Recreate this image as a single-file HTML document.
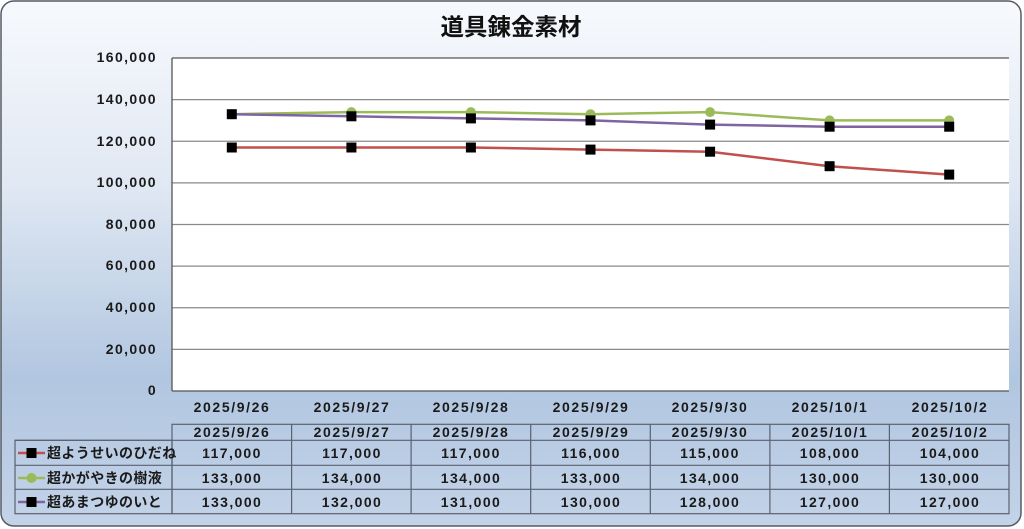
<!DOCTYPE html>
<html><head><meta charset="utf-8">
<style>
html,body{margin:0;padding:0;background:#fff;}
svg{display:block;}
text{font-family:"Liberation Sans","Noto Sans CJK JP",sans-serif;fill:#1a1a1a;}
.y{font-size:14px;font-weight:bold;letter-spacing:1.4px;text-anchor:end;}
.d{font-size:14px;font-weight:bold;letter-spacing:1.6px;text-anchor:middle;}
.v{font-size:14px;font-weight:bold;letter-spacing:1.4px;text-anchor:middle;}
.lg{font-size:14px;font-weight:bold;letter-spacing:0.4px;font-family:"Noto Sans CJK JP","Liberation Sans",sans-serif;}
</style></head>
<body>
<svg width="1024" height="529" viewBox="0 0 1024 529" xmlns="http://www.w3.org/2000/svg">
<defs>
<linearGradient id="bg" x1="0" y1="0" x2="0" y2="1">
<stop offset="0" stop-color="#f7f9fd"/>
<stop offset="0.35" stop-color="#e0e8f3"/>
<stop offset="0.72" stop-color="#b1c6e0"/>
<stop offset="1" stop-color="#c3d3e8"/>
</linearGradient>
</defs>
<rect x="1" y="1" width="1020" height="525" rx="13" ry="13" fill="url(#bg)" stroke="#555b63" stroke-width="1.5"/>
<text x="511" y="35" text-anchor="middle" style="font-size:23.5px;font-weight:bold;font-family:'Noto Sans CJK JP','Liberation Sans',sans-serif;fill:#111;">道具錬金素材</text>

<!-- plot area -->
<rect x="172" y="58" width="837" height="333" fill="#ffffff"/>
<g stroke="#8a8a8a" stroke-width="1.3">
<line x1="172" y1="99.6" x2="1009" y2="99.6"/>
<line x1="172" y1="141.25" x2="1009" y2="141.25"/>
<line x1="172" y1="182.9" x2="1009" y2="182.9"/>
<line x1="172" y1="224.5" x2="1009" y2="224.5"/>
<line x1="172" y1="266.1" x2="1009" y2="266.1"/>
<line x1="172" y1="307.75" x2="1009" y2="307.75"/>
<line x1="172" y1="349.4" x2="1009" y2="349.4"/>
</g>
<line x1="172" y1="58" x2="1009" y2="58" stroke="#555" stroke-width="1.3"/>
<line x1="172" y1="58" x2="172" y2="391" stroke="#555" stroke-width="1.3"/>
<line x1="172" y1="391" x2="1009" y2="391" stroke="#555" stroke-width="1.3"/>

<!-- y labels -->
<g class="y">
<text class="y" x="157" y="62">160,000</text>
<text class="y" x="157" y="104">140,000</text>
<text class="y" x="157" y="146">120,000</text>
<text class="y" x="157" y="187">100,000</text>
<text class="y" x="157" y="229">80,000</text>
<text class="y" x="157" y="270">60,000</text>
<text class="y" x="157" y="312">40,000</text>
<text class="y" x="157" y="354">20,000</text>
<text class="y" x="157" y="395">0</text>
</g>

<!-- series -->
<polyline fill="none" stroke="#c0504d" stroke-width="2.5" points="231.8,147.5 351.4,147.5 470.9,147.5 590.5,149.6 710.1,151.7 829.6,166.2 949.2,174.6"/>
<polyline fill="none" stroke="#9bbb59" stroke-width="2.5" points="231.8,114.2 351.4,112.1 470.9,112.1 590.5,114.2 710.1,112.1 829.6,120.4 949.2,120.4"/>
<polyline fill="none" stroke="#8064a2" stroke-width="2.5" points="231.8,114.2 351.4,116.3 470.9,118.4 590.5,120.4 710.1,124.6 829.6,126.7 949.2,126.7"/>
<g fill="#000">
<rect x="226.8" y="142.5" width="10" height="10"/><rect x="346.4" y="142.5" width="10" height="10"/><rect x="465.9" y="142.5" width="10" height="10"/><rect x="585.5" y="144.6" width="10" height="10"/><rect x="705.1" y="146.7" width="10" height="10"/><rect x="824.6" y="161.2" width="10" height="10"/><rect x="944.2" y="169.6" width="10" height="10"/>
</g>
<g fill="#9bbb59">
<circle cx="231.8" cy="114.2" r="5"/><circle cx="351.4" cy="112.1" r="5"/><circle cx="470.9" cy="112.1" r="5"/><circle cx="590.5" cy="114.2" r="5"/><circle cx="710.1" cy="112.1" r="5"/><circle cx="829.6" cy="120.4" r="5"/><circle cx="949.2" cy="120.4" r="5"/>
</g>
<g fill="#000">
<rect x="226.8" y="109.2" width="10" height="10"/><rect x="346.4" y="111.3" width="10" height="10"/><rect x="465.9" y="113.4" width="10" height="10"/><rect x="585.5" y="115.4" width="10" height="10"/><rect x="705.1" y="119.6" width="10" height="10"/><rect x="824.6" y="121.7" width="10" height="10"/><rect x="944.2" y="121.7" width="10" height="10"/>
</g>

<!-- axis date labels -->
<text class="d" x="232" y="412">2025/9/26</text>
<text class="d" x="352" y="412">2025/9/27</text>
<text class="d" x="471" y="412">2025/9/28</text>
<text class="d" x="591" y="412">2025/9/29</text>
<text class="d" x="710" y="412">2025/9/30</text>
<text class="d" x="830" y="412">2025/10/1</text>
<text class="d" x="950" y="412">2025/10/2</text>

<!-- data table -->
<g stroke="#5a6170" stroke-width="1.2" fill="none">
<rect x="172" y="424.3" width="837" height="89.4"/>
<rect x="15" y="440.3" width="157" height="73.4"/>
<line x1="15" y1="440.3" x2="1009" y2="440.3"/>
<line x1="15" y1="465.3" x2="1009" y2="465.3"/>
<line x1="15" y1="489.3" x2="1009" y2="489.3"/>
<line x1="291.6" y1="424.3" x2="291.6" y2="513.7"/>
<line x1="411.1" y1="424.3" x2="411.1" y2="513.7"/>
<line x1="530.7" y1="424.3" x2="530.7" y2="513.7"/>
<line x1="650.3" y1="424.3" x2="650.3" y2="513.7"/>
<line x1="769.9" y1="424.3" x2="769.9" y2="513.7"/>
<line x1="889.4" y1="424.3" x2="889.4" y2="513.7"/>
</g>
<text class="d" x="232" y="437">2025/9/26</text>
<text class="d" x="352" y="437">2025/9/27</text>
<text class="d" x="471" y="437">2025/9/28</text>
<text class="d" x="591" y="437">2025/9/29</text>
<text class="d" x="710" y="437">2025/9/30</text>
<text class="d" x="830" y="437">2025/10/1</text>
<text class="d" x="950" y="437">2025/10/2</text>

<!-- legend keys -->
<line x1="18" y1="453" x2="45" y2="453" stroke="#c0504d" stroke-width="2.5"/>
<rect x="26.5" y="448" width="10" height="10" fill="#000"/>
<line x1="18" y1="478" x2="45" y2="478" stroke="#9bbb59" stroke-width="2.5"/>
<circle cx="31.5" cy="478" r="5" fill="#9bbb59"/>
<line x1="18" y1="502" x2="45" y2="502" stroke="#8064a2" stroke-width="2.5"/>
<rect x="26.5" y="497" width="10" height="10" fill="#000"/>
<text class="lg" x="47" y="458">超ようせいのひだね</text>
<text class="lg" x="47" y="483">超かがやきの樹液</text>
<text class="lg" x="47" y="507">超あまつゆのいと</text>

<!-- values -->
<g>
<text class="v" x="232" y="458">117,000</text><text class="v" x="352" y="458">117,000</text><text class="v" x="471" y="458">117,000</text><text class="v" x="591" y="458">116,000</text><text class="v" x="710" y="458">115,000</text><text class="v" x="830" y="458">108,000</text><text class="v" x="950" y="458">104,000</text>
<text class="v" x="232" y="483">133,000</text><text class="v" x="352" y="483">134,000</text><text class="v" x="471" y="483">134,000</text><text class="v" x="591" y="483">133,000</text><text class="v" x="710" y="483">134,000</text><text class="v" x="830" y="483">130,000</text><text class="v" x="950" y="483">130,000</text>
<text class="v" x="232" y="507">133,000</text><text class="v" x="352" y="507">132,000</text><text class="v" x="471" y="507">131,000</text><text class="v" x="591" y="507">130,000</text><text class="v" x="710" y="507">128,000</text><text class="v" x="830" y="507">127,000</text><text class="v" x="950" y="507">127,000</text>
</g>
</svg>
</body></html>
